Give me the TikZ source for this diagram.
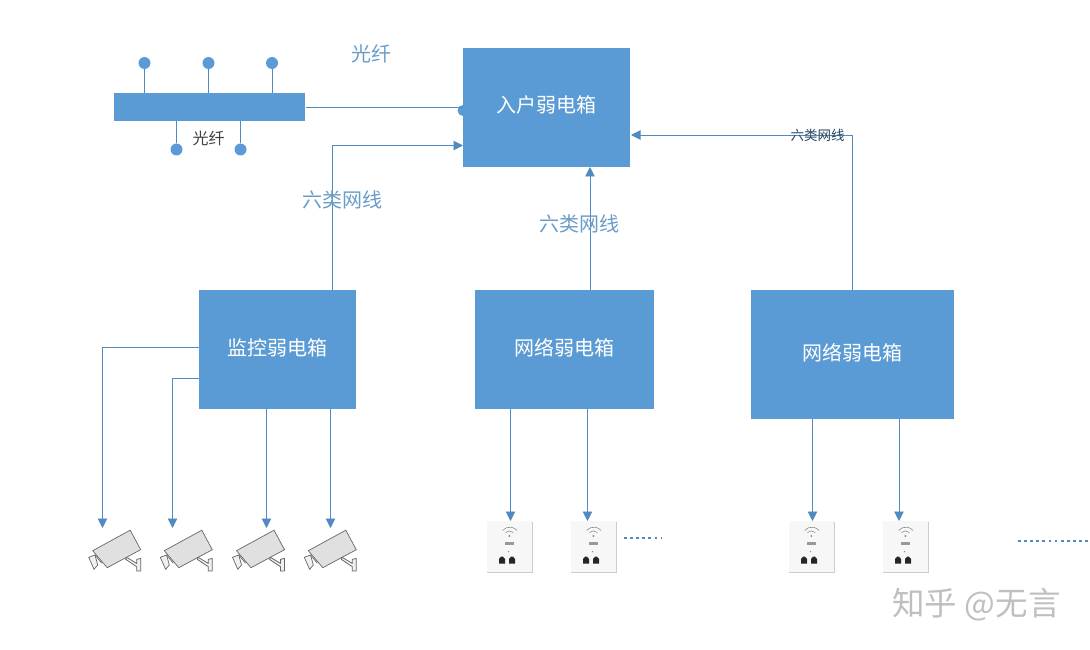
\documentclass[tikz,border=0pt]{standalone}
\usepackage{fontspec}
\setmainfont{Noto Sans CJK SC}
\usetikzlibrary{arrows.meta}
\definecolor{boxblue}{HTML}{5B9BD5}
\definecolor{linkblue}{HTML}{4F8BC0}
\definecolor{lblblue}{HTML}{6A9CC8}
\tikzset{
  x=1pt,y=-1pt,
  bx/.style={fill=boxblue,draw=none,text=white,font=\fontsize{20}{23}\selectfont,inner sep=0pt,anchor=center,text depth=5pt},
  lnk/.style={draw=linkblue,line width=0.9pt},
  arr/.style={lnk,-{Triangle[length=9.5pt,width=9.5pt,color=linkblue]}},
  pin/.style={fill=boxblue,draw=none,circle,minimum size=12pt,inner sep=0pt},
  lbl/.style={text=lblblue,font=\fontsize{20}{23}\selectfont,inner sep=0pt},
  dots/.style={draw=linkblue,line width=2.6pt,dash pattern=on 2.8pt off 3.3pt},
  cam/.pic={
    \fill[draw=black!60,fill=black!6,line width=.7pt] (-4,6.6)--(2.3,4.3)--(5,14.3)--(1.3,18.6)--cycle;
    \draw[black!60,line width=.7pt] (2.3,4.3)--(9,12.5);
    \fill[draw=black!60,fill=black!12,line width=.7pt] (0,0)--(37.5,-20.5)--(48,-1)--(14.5,17)--cycle;
    \fill[draw=black!60,fill=black!6,line width=.8pt] (34,6.7)--(44,12.7)--(44,8.7)--(48,7.7)--(48,20.3)--(44,20.3)--(44,16)--(33,8.7)--cycle;
  },
  sock/.pic={
    \fill[black!20] (-.5,0.5) rectangle (45.5,52);
    \fill[black!3] (0,0) rectangle (44.5,50.5);
    \draw[black!45,line width=.6pt] (18.5,11.5) arc[start angle=-135,end angle=-45,radius=5.5];
    \draw[black!45,line width=.6pt] (15.5,9.5) arc[start angle=-140,end angle=-40,radius=9.5];
    \fill[black!50] (22.3,15) circle[radius=1];
    \fill[black!40] (18,20.5) rectangle (27,23.5);
    \fill[black!50] (21.5,30.7) circle[radius=.7];
    \fill[black!85] (12,42.5)--(12,38)--(14,35.7)--(16,35.7)--(18,38)--(18,42.5)--cycle;
    \fill[black!85] (22,42.5)--(22,38)--(24,35.7)--(26,35.7)--(28,38)--(28,42.5)--cycle;
  }
}
\begin{document}
\begin{tikzpicture}
\useasboundingbox (0,0) rectangle (1090,650);
% half hidden pin and fibre link, below the main box
\node[pin,minimum size=11pt] (fp) at (463,110.5) {};
\coordinate (fibrestart) at (305.5,107.5);
\draw[lnk] (fibrestart) -- (fp.center|-fibrestart);
% boxes
\node[bx,minimum width=167pt,minimum height=119pt,text depth=7pt] (main) at (546.5,107.5) {入户弱电箱};
\node[bx,minimum width=191pt,minimum height=28pt] (bar) at (209.5,107) {};
\node[bx,minimum width=157pt,minimum height=119pt] (mon) at (277.5,349.5) {监控弱电箱};
\node[bx,minimum width=179pt,minimum height=119pt] (neta) at (564.5,349.5) {网络弱电箱};
\node[bx,minimum width=203pt,minimum height=129pt] (netb) at (852.5,354.5) {网络弱电箱};
% pins
\foreach \n/\x/\y in {pa/144.5/63,pb/208.5/63,pc/272/63,pd/176.5/149.5,pe/240.5/149.5}
  \node[pin] (\n) at (\x,\y) {};
\draw[lnk] (pa) -- (pa|-bar.north);
\draw[lnk] (pb) -- (pb|-bar.north);
\draw[lnk] (pc) -- (pc|-bar.north);
\draw[lnk] (pd) -- (pd|-bar.south);
\draw[lnk] (pe) -- (pe|-bar.south);
% uplinks
\coordinate (ma) at (463,145.5);
\coordinate (mc) at (631,135);
\coordinate (md) at (590,167);
\coordinate (ua) at (332.5,290);
\coordinate (ub) at (590,290);
\coordinate (uc) at (852.5,290);
\draw[arr] (ua) -- (ua|-ma) -- (ma);
\draw[arr] (ub) -- (md);
\draw[arr] (uc) -- (uc|-mc) -- (mc);
% labels
\node[lbl] (l1) at (371,54) {光纤};
\node[inner sep=0pt,text=black!75,font=\fontsize{16}{18}\selectfont] (l2) at (208.5,138) {光纤};
\node[lbl] (l3) at (342,200) {六类网线};
\node[lbl] (l4) at (579,224) {六类网线};
\node[inner sep=0pt,text=black!50!linkblue,font=\fontsize{13.5}{16}\selectfont] (l5) at (817.5,135) {六类网线};
% cameras and sockets
\foreach \n/\x in {ca/92.7,cb/164.3,cc/236.5,cd/308.3}
  \path (\x,550.7) pic (\n) {cam};
\foreach \n/\x in {sa/487,sb/571,sc/789,sd/883}
  \path (\x,521) pic (\n) {sock};
% downlinks
\coordinate (d1) at (102.5,528);
\coordinate (d2) at (172.5,528);
\coordinate (d3) at (266.5,528);
\coordinate (d4) at (330.5,528);
\coordinate (s1) at (510.5,521);
\coordinate (s2) at (587.5,521);
\coordinate (s3) at (812.5,521);
\coordinate (s4) at (899,521);
\coordinate (h1) at (199,347);
\coordinate (h2) at (199,378);
\draw[arr] (h1) -- (d1|-h1) -- (d1);
\draw[arr] (h2) -- (d2|-h2) -- (d2);
\draw[arr] (d3|-mon.south) -- (d3);
\draw[arr] (d4|-mon.south) -- (d4);
\draw[arr] (s1|-neta.south) -- (s1);
\draw[arr] (s2|-neta.south) -- (s2);
\draw[arr] (s3|-netb.south) -- (s3);
\draw[arr] (s4|-netb.south) -- (s4);
% dotted
\coordinate (da) at (624,538);
\coordinate (db) at (661,538);
\coordinate (dc) at (1018,541);
\coordinate (dd) at (1089,541);
\draw[dots] (da) -- (db);
\draw[dots] (dc) -- (dd);
% watermark
\node[inner sep=0pt,text=black!25,font=\fontsize{32.5}{36}\selectfont] (wm) at (976.5,605) {知乎 @无言};
\end{tikzpicture}
\end{document}
